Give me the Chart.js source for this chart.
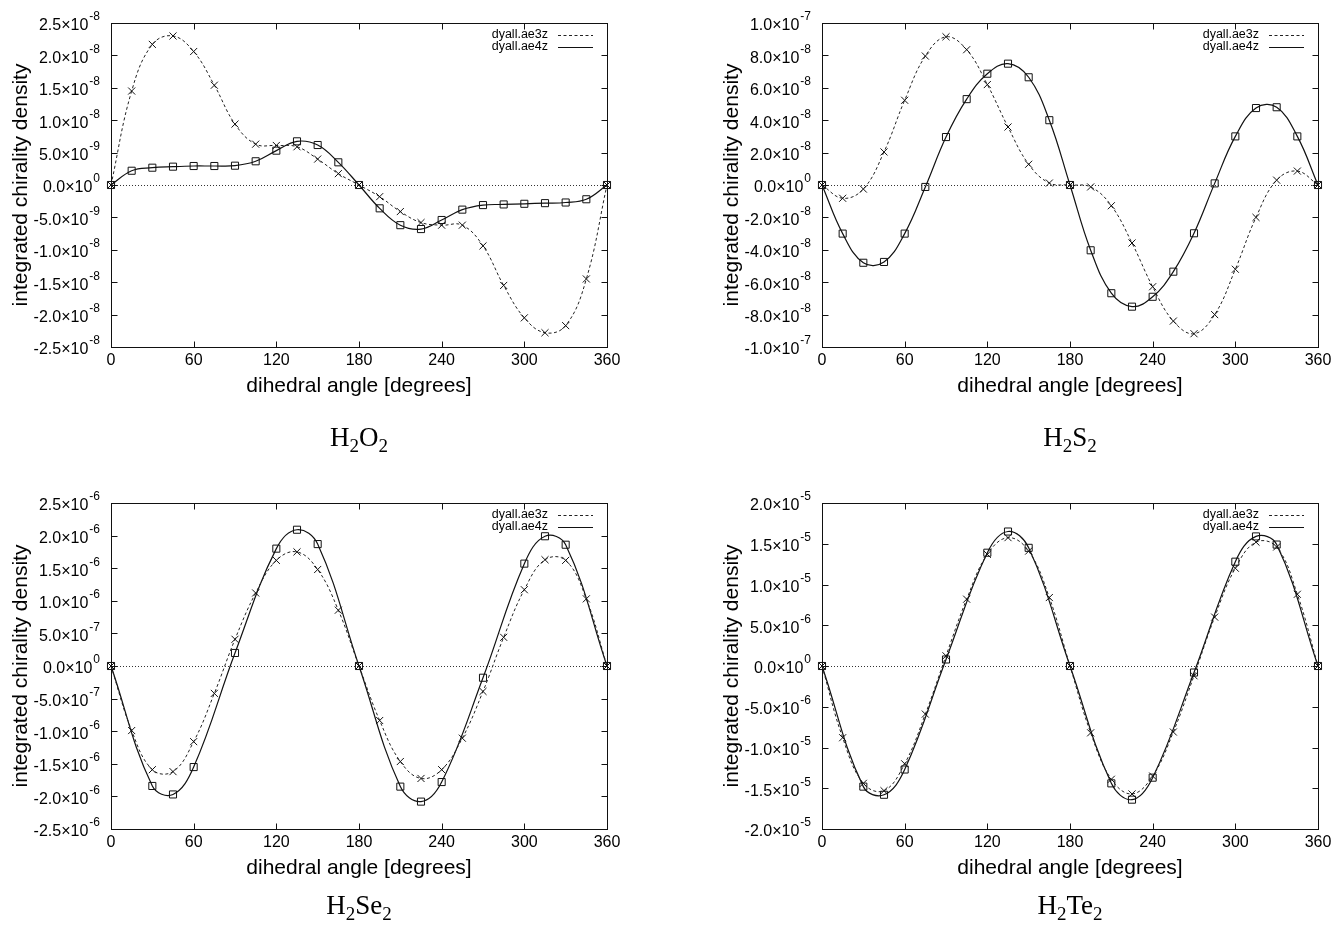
<!DOCTYPE html>
<html>
<head>
<meta charset="utf-8">
<title>integrated chirality density</title>
<script src="https://cdn.jsdelivr.net/npm/chart.js@4.4.1/dist/chart.umd.min.js"></script>
<style>
  html, body { margin: 0; padding: 0; background: #fff; }
  body { width: 1338px; height: 932px; position: relative; overflow: hidden; }
  canvas { position: absolute; }
  .cap { position: absolute; width: 300px; text-align: center; font-family: "Liberation Serif", serif; font-size: 27px; line-height: 27px; color: #000; }
  .cap sub { font-size: 19px; vertical-align: -6px; line-height: 0; }
</style>
</head>
<body>
<canvas id="c1" width="669" height="466" style="left:0;top:0"></canvas>
<canvas id="c2" width="669" height="466" style="left:669px;top:0"></canvas>
<canvas id="c3" width="669" height="466" style="left:0;top:466px"></canvas>
<canvas id="c4" width="669" height="466" style="left:669px;top:466px"></canvas>
<div class="cap" style="left:209px;top:424px">H<sub>2</sub>O<sub>2</sub></div>
<div class="cap" style="left:920px;top:424px">H<sub>2</sub>S<sub>2</sub></div>
<div class="cap" style="left:209px;top:892px">H<sub>2</sub>Se<sub>2</sub></div>
<div class="cap" style="left:920px;top:892px">H<sub>2</sub>Te<sub>2</sub></div>
<script>
// DATA
const angles = [0, 15, 30, 45, 60, 75, 90, 105, 120, 135, 150, 165, 180, 195, 210, 225, 240, 255, 270, 285, 300, 315, 330, 345, 360];
const anglesSparse = [0, 30, 45, 60, 90, 120, 135, 150, 180, 210, 225, 240, 270, 300, 315, 330, 360];
const xTicks = [0, 60, 120, 180, 240, 300, 360];

const h2o2Ae3z = [0, 1.45e-8, 2.17e-8, 2.30e-8, 2.06e-8, 1.54e-8, 0.94e-8, 0.63e-8, 0.61e-8, 0.59e-8, 0.40e-8, 0.175e-8, 0,
  -0.18e-8, -0.41e-8, -0.58e-8, -0.62e-8, -0.62e-8, -0.94e-8, -1.55e-8, -2.05e-8, -2.28e-8, -2.17e-8, -1.45e-8, 0];
const h2o2Ae4z = [0, 0.22e-8, 0.267e-8, 0.283e-8, 0.293e-8, 0.293e-8, 0.298e-8, 0.366e-8, 0.53e-8, 0.674e-8, 0.617e-8, 0.35e-8, 0,
  -0.36e-8, -0.62e-8, -0.68e-8, -0.54e-8, -0.38e-8, -0.31e-8, -0.30e-8, -0.29e-8, -0.28e-8, -0.27e-8, -0.22e-8, 0];
const h2o2Ticks = [-2.5e-8, -2.0e-8, -1.5e-8, -1.0e-8, -5.0e-9, 0, 5.0e-9, 1.0e-8, 1.5e-8, 2.0e-8, 2.5e-8];

const h2s2Ae3z = [0, -0.82e-8, -0.25e-8, 2.04e-8, 5.23e-8, 7.96e-8, 9.15e-8, 8.35e-8, 6.2e-8, 3.58e-8, 1.28e-8, 0.12e-8, 0,
  -0.12e-8, -1.28e-8, -3.58e-8, -6.28e-8, -8.4e-8, -9.18e-8, -8.0e-8, -5.2e-8, -2.0e-8, 0.3e-8, 0.86e-8, 0];
const h2s2Ae4z = [0, -3.0e-8, -4.8e-8, -4.75e-8, -3.0e-8, -0.12e-8, 2.96e-8, 5.3e-8, 6.87e-8, 7.49e-8, 6.65e-8, 4.0e-8, 0,
  -4.03e-8, -6.68e-8, -7.51e-8, -6.9e-8, -5.35e-8, -2.98e-8, 0.1e-8, 3.0e-8, 4.75e-8, 4.8e-8, 3.0e-8, 0];
const h2s2Ticks = [-1.0e-7, -8.0e-8, -6.0e-8, -4.0e-8, -2.0e-8, 0, 2.0e-8, 4.0e-8, 6.0e-8, 8.0e-8, 1.0e-7];

const h2se2Ae3z = [0, -0.99e-6, -1.59e-6, -1.62e-6, -1.16e-6, -0.42e-6, 0.41e-6, 1.12e-6, 1.62e-6, 1.75e-6, 1.48e-6, 0.856e-6, 0,
  -0.836e-6, -1.465e-6, -1.725e-6, -1.59e-6, -1.107e-6, -0.39e-6, 0.44e-6, 1.17e-6, 1.63e-6, 1.62e-6, 1.03e-6, 0];
const h2se2Ae4z = [0, -1.84e-6, -1.97e-6, -1.55e-6, 0.20e-6, 1.80e-6, 2.09e-6, 1.87e-6, 0,
  -1.85e-6, -2.08e-6, -1.78e-6, -0.18e-6, 1.57e-6, 1.99e-6, 1.86e-6, 0];
const h2se2Ticks = [-2.5e-6, -2.0e-6, -1.5e-6, -1.0e-6, -5.0e-7, 0, 5.0e-7, 1.0e-6, 1.5e-6, 2.0e-6, 2.5e-6];

const h2te2Ae3z = [0, -0.88e-5, -1.44e-5, -1.53e-5, -1.20e-5, -0.59e-5, 0.125e-5, 0.82e-5, 1.37e-5, 1.575e-5, 1.41e-5, 0.84e-5, 0,
  -0.82e-5, -1.39e-5, -1.57e-5, -1.35e-5, -0.81e-5, -0.12e-5, 0.60e-5, 1.20e-5, 1.52e-5, 1.46e-5, 0.88e-5, 0];
const h2te2Ae4z = [0, -1.48e-5, -1.58e-5, -1.27e-5, 0.08e-5, 1.39e-5, 1.65e-5, 1.45e-5, 0,
  -1.44e-5, -1.64e-5, -1.37e-5, -0.08e-5, 1.28e-5, 1.59e-5, 1.49e-5, 0];
const h2te2Ticks = [-2.0e-5, -1.5e-5, -1.0e-5, -5.0e-6, 0, 5.0e-6, 1.0e-5, 1.5e-5, 2.0e-5];

const seriesNames = ['dyall.ae3z', 'dyall.ae4z'];

// STYLE
const SANS = '"Liberation Sans", Arial, sans-serif';
const INK = '#111';
const DASH = [3, 2.5];

function pts(xs, ys) { return xs.map((x, i) => ({ x: x, y: ys[i] })); }

// "m.m x 10^e" pieces for a tick value
function sciParts(v) {
  if (v === 0) return ['0.0', '0'];
  const e = Math.floor(Math.log10(Math.abs(v)) + 1e-9);
  return [(v / Math.pow(10, e)).toFixed(1), String(e)];
}

// gnuplot-ish frame, ticks, labels and key
function gnuplotLook(yTicks) {
  return {
    id: 'gnuplotLook',
    beforeDatasetsDraw(chart) {
      const { ctx, chartArea: a, scales: { x, y } } = chart;
      ctx.save();
      ctx.lineWidth = 1;
      ctx.strokeStyle = '#333';
      ctx.setLineDash([1, 2]);
      const y0 = Math.round(y.getPixelForValue(0)) + 0.5;
      ctx.beginPath(); ctx.moveTo(a.left, y0); ctx.lineTo(a.right, y0); ctx.stroke();
      ctx.setLineDash([]);
      ctx.strokeStyle = INK;
      const L = Math.round(a.left) + 0.5, R = Math.round(a.right) + 0.5;
      const T = Math.round(a.top) + 0.5, B = Math.round(a.bottom) + 0.5;
      ctx.strokeRect(L, T, R - L, B - T);
      ctx.beginPath();
      xTicks.forEach(v => {
        const px = Math.round(x.getPixelForValue(v)) + 0.5;
        ctx.moveTo(px, B); ctx.lineTo(px, B - 6);
        ctx.moveTo(px, T); ctx.lineTo(px, T + 6);
      });
      yTicks.forEach(v => {
        const py = Math.round(y.getPixelForValue(v)) + 0.5;
        ctx.moveTo(L, py); ctx.lineTo(L + 6, py);
        ctx.moveTo(R, py); ctx.lineTo(R - 6, py);
      });
      ctx.stroke();
      ctx.restore();
    },
    afterDraw(chart) {
      const { ctx, chartArea: a, scales: { x, y } } = chart;
      ctx.save();
      ctx.fillStyle = '#000';
      ctx.textBaseline = 'middle';

      // y tick labels
      yTicks.forEach(v => {
        const py = y.getPixelForValue(v);
        const [m, e] = sciParts(v);
        ctx.font = '12px ' + SANS;
        ctx.textAlign = 'right';
        const ew = ctx.measureText(e).width;
        ctx.fillText(e, a.left - 11, py - 6);
        ctx.font = '16px ' + SANS;
        ctx.fillText(m + '\u00d710', a.left - 12 - ew, py + 3);
      });

      // x tick labels
      ctx.font = '16px ' + SANS;
      ctx.textAlign = 'center';
      xTicks.forEach(v => ctx.fillText(String(v), x.getPixelForValue(v), a.bottom + 14));

      // axis titles
      ctx.font = '21px ' + SANS;
      ctx.fillText('dihedral angle [degrees]', (a.left + a.right) / 2, a.bottom + 39);
      ctx.save();
      ctx.translate(a.left - 90, (a.top + a.bottom) / 2);
      ctx.rotate(-Math.PI / 2);
      ctx.fillText('integrated chirality density', 0, 0);
      ctx.restore();

      // key
      ctx.font = '12.5px ' + SANS;
      ctx.textAlign = 'right';
      chart.data.datasets.forEach((ds, i) => {
        const ky = a.top + 12 + i * 12;
        ctx.fillText(ds.label, a.right - 59, ky);
        ctx.beginPath();
        ctx.lineWidth = ds.borderWidth;
        ctx.strokeStyle = ds.borderColor;
        ctx.setLineDash(ds.borderDash || []);
        ctx.moveTo(a.right - 49, Math.round(ky) + 0.5);
        ctx.lineTo(a.right - 14, Math.round(ky) + 0.5);
        ctx.stroke();
        ctx.setLineDash([]);
      });
      ctx.restore();
    }
  };
}

function makeChart(id, pad, ae3z, xs4, ae4z, yTicks) {
  const ctx = document.getElementById(id).getContext('2d');
  return new Chart(ctx, {
    type: 'line',
    data: {
      datasets: [
        { label: seriesNames[0], data: pts(angles, ae3z), borderColor: '#222', borderWidth: 1, borderDash: DASH,
          pointStyle: 'crossRot', pointRadius: 5, pointBorderWidth: 1, pointBorderColor: INK,
          pointBackgroundColor: 'rgba(0,0,0,0)', tension: 0.4, fill: false, clip: false },
        { label: seriesNames[1], data: pts(xs4, ae4z), borderColor: INK, borderWidth: 1.2,
          pointStyle: 'rect', pointRadius: 5, pointBorderWidth: 1, pointBorderColor: INK,
          pointBackgroundColor: 'rgba(0,0,0,0)', tension: 0.4, fill: false, clip: false }
      ]
    },
    options: {
      responsive: false,
      animation: false,
      events: [],
      layout: { padding: pad },
      plugins: { legend: { display: false }, tooltip: { enabled: false } },
      scales: {
        x: { type: 'linear', display: false, min: xTicks[0], max: xTicks[xTicks.length - 1] },
        y: { type: 'linear', display: false, min: yTicks[0], max: yTicks[yTicks.length - 1] }
      }
    },
    plugins: [gnuplotLook(yTicks)]
  });
}

// BUILD
makeChart('c1', { left: 111, top: 23, right: 62, bottom: 119 }, h2o2Ae3z, angles, h2o2Ae4z, h2o2Ticks);
makeChart('c2', { left: 153, top: 23, right: 20, bottom: 119 }, h2s2Ae3z, angles, h2s2Ae4z, h2s2Ticks);
makeChart('c3', { left: 111, top: 37, right: 62, bottom: 103 }, h2se2Ae3z, anglesSparse, h2se2Ae4z, h2se2Ticks);
makeChart('c4', { left: 153, top: 37, right: 20, bottom: 103 }, h2te2Ae3z, anglesSparse, h2te2Ae4z, h2te2Ticks);
</script>
</body>
</html>
